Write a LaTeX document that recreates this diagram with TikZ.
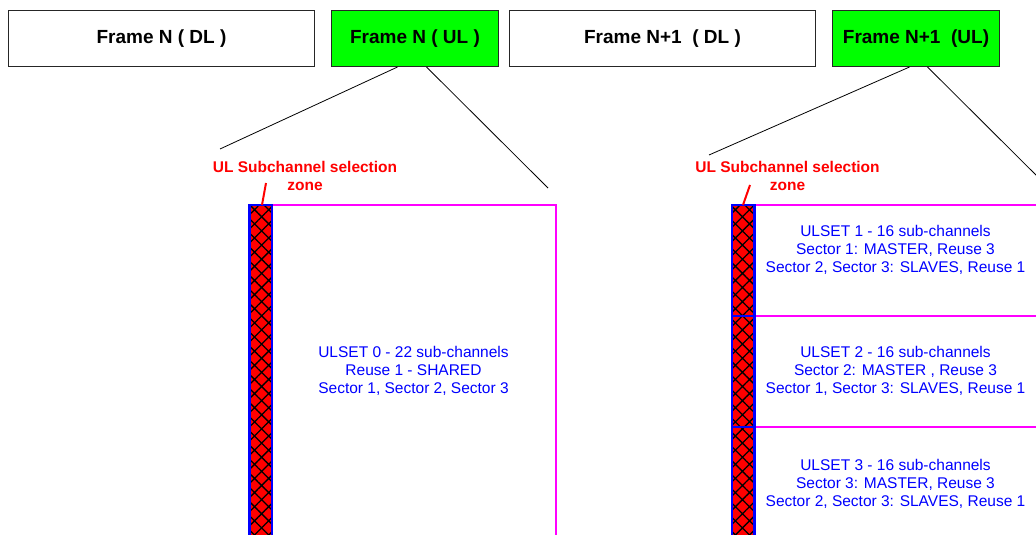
\documentclass[tikz,border=0pt]{standalone}
\usepackage{fontspec}
\setmainfont{Liberation Sans}
\usetikzlibrary{calc,positioning,patterns.meta}

\definecolor{ulgreen}{RGB}{0,255,0}
\definecolor{setpink}{RGB}{255,0,255}
\definecolor{setblue}{RGB}{0,0,255}
\definecolor{zonered}{RGB}{255,0,0}

\tikzset{
  frame/.style={draw=black!85,line width=1pt,minimum height=56pt,inner sep=0pt,
    font=\fontsize{19}{22}\selectfont\bfseries},
  conn/.style={black,line width=0.8pt},
  zonelabel/.style={text=zonered,align=center,font=\fontsize{15.5}{18}\selectfont\bfseries},
  settext/.style={text=setblue,align=center,font=\fontsize{15.5}{18}\selectfont},
  setline/.style={setpink,line width=2pt},
  hatchbar/.style={draw=setblue,line width=2.5pt,
    preaction={fill=zonered},
    preaction={pattern={Hatch[angle=45,distance=10pt,line width=1.3pt]},pattern color=black}}
}

\begin{document}
\begin{tikzpicture}[x=1pt,y=-1pt]
\useasboundingbox (0,0) rectangle (1036,535);
\clip (0,0) rectangle (1036,535);
% frames
\node[frame,minimum width=306pt,anchor=north west] (fndl) at (8,10) {Frame N ( DL )};
\node[frame,minimum width=167pt,fill=ulgreen,right=16pt of fndl] (fnul) {Frame N ( UL )};
\node[frame,minimum width=306pt,right=10pt of fnul] (fmdl) {Frame N+1\ \ ( DL )};
\node[frame,minimum width=167pt,fill=ulgreen,right=16pt of fmdl] (fmul) {Frame N+1\ \ (UL)};
% zoom lines
\coordinate (a1) at (220,149);
\coordinate (b1) at (548,188);
\coordinate (a2) at (709,155);
\coordinate (b2) at (1049,188);
\draw[conn] ([xshift=-17.5pt]fnul.south) -- (a1);
\draw[conn] ([xshift=11.5pt]fnul.south) -- (b1);
\draw[conn] ([xshift=-6.5pt]fmul.south) -- (a2);
\draw[conn] ([xshift=11.5pt]fmul.south) -- (b2);

% frame N, uplink
\draw[setline] (272,205) -| (555.5,545);
\draw[hatchbar] (249.5,205) rectangle (272,545);
\node[zonelabel] (zl1) at (305,176) {UL Subchannel selection\\zone};
\coordinate (p1) at (262,205);
\draw[zonered,line width=2pt] ($(zl1.center)+(-39,7)$) -- (p1);
\node[settext] (set0) at (413.5,371) {ULSET 0 - 22 sub-channels\\Reuse 1 - SHARED\\Sector 1, Sector 2, Sector 3};

% frame N+1, uplink
\foreach \y in {205,316,427}
  \draw[setline] (755,\y) -- (1040,\y);
\draw[hatchbar] (732,205) rectangle (754.5,316);
\draw[hatchbar] (732,316) rectangle (754.5,427);
\draw[hatchbar] (732,427) rectangle (754.5,545);
\node[zonelabel] (zl2) at (787.5,176) {UL Subchannel selection\\zone};
\coordinate (p2) at (743,205);
\draw[zonered,line width=2pt] ($(zl2.center)+(-37.5,9)$) -- (p2);
\node[settext] (set1) at (895.5,250) {ULSET 1 - 16 sub-channels\\Sector 1: MASTER, Reuse 3\\Sector 2, Sector 3: SLAVES, Reuse 1};
\node[settext] (set2) at (895.5,371) {ULSET 2 - 16 sub-channels\\Sector 2: MASTER , Reuse 3\\Sector 1, Sector 3: SLAVES, Reuse 1};
\node[settext] (set3) at (895.5,483.5) {ULSET 3 - 16 sub-channels\\Sector 3: MASTER, Reuse 3\\Sector 2, Sector 3: SLAVES, Reuse 1};
\end{tikzpicture}
\end{document}
